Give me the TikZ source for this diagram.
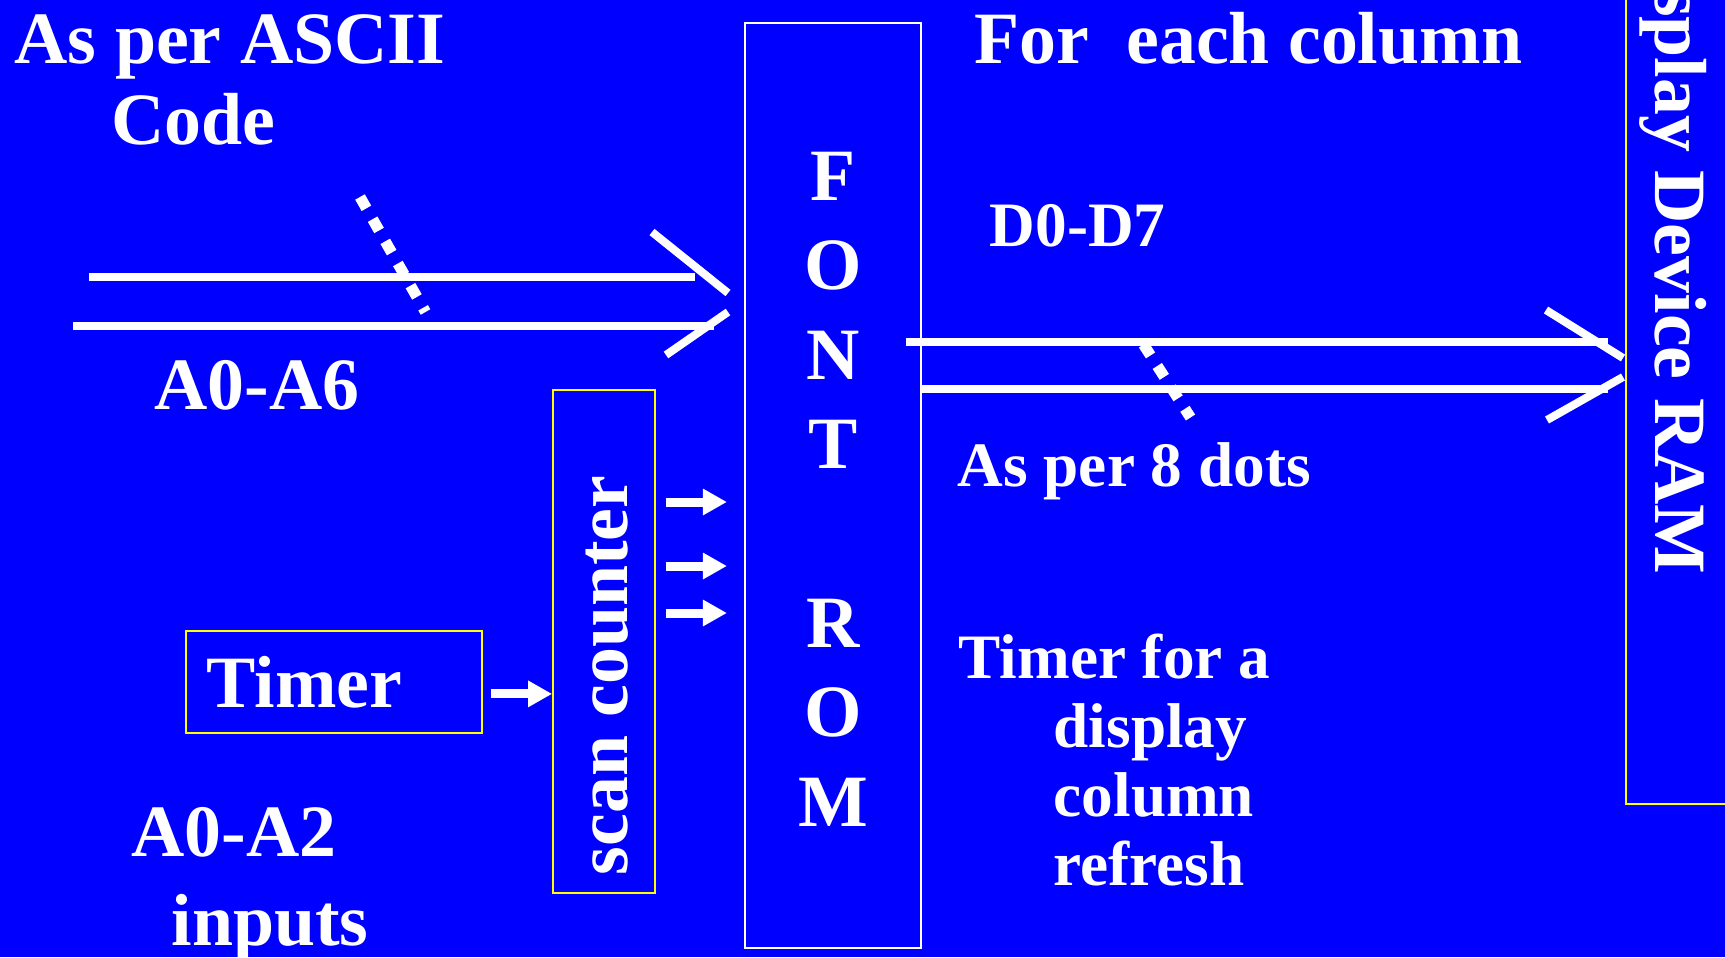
\documentclass[tikz,border=0pt]{standalone}
\usepackage{fontspec}
\setmainfont{Liberation Serif}
\usetikzlibrary{arrows.meta, positioning, calc}
\definecolor{slide}{HTML}{0000FF}
\definecolor{frame}{HTML}{FFFF00}

\tikzset{
  bigtxt/.style={text=white, font=\fontsize{21}{25.3}\selectfont\bfseries,
                 inner sep=0pt, anchor=base west},
  smalltxt/.style={bigtxt, font=\fontsize{18}{21}\selectfont\bfseries},
  yelbox/.style={draw=frame, line width=0.5pt},
  rombox/.style={draw=white, line width=0.6pt},
  bus/.style={white, line width=0.08cm},
  dotslash/.style={white, line width=0.11cm, dash pattern=on 0.13cm off 0.125cm},
  fatarrow/.style={white, line width=0.09cm, -{Triangle[length=0.24cm, width=0.25cm]}}
}

\begin{document}
\begin{tikzpicture}
  \clip (0,0) rectangle (17.25,-9.57);
  \fill[slide] (0,0) rectangle (17.25,-9.57);
  % Blocks
  \node[rombox, minimum width=1.76cm, minimum height=9.25cm] (rom) at (8.33,-4.855) {};
  \node[text=white, font=\fontsize{21}{25.5}\selectfont\bfseries, align=center,
        inner sep=0pt, anchor=north] (romlbl) at (8.33,-1.51)
        {F\\O\\N\\T\\[0.885cm]R\\O\\M};
  \node[yelbox, minimum width=1.02cm, minimum height=5.03cm] (scan) at (6.04,-6.415) {};
  \node[bigtxt, rotate=90] (scanlbl) at (6.27,-8.76) {scan counter};
  \node[yelbox, anchor=north west, minimum width=2.96cm, minimum height=1.02cm,
        text width=2.54cm, inner xsep=0.21cm, align=left, text=white,
        font=\fontsize{21}{25.3}\selectfont\bfseries] (timer) at (1.85,-6.30) {Timer};
  \node[yelbox, anchor=south west, minimum width=2cm, minimum height=9cm] (ram) at (16.25,-8.05) {};
  \node[bigtxt, rotate=-90, anchor=base east] (ramlbl) at (16.55,-5.75) {Display Device RAM};
  % Address bus into the ROM
  \coordinate (busA) at (0.89,-2.77);
  \coordinate (busB) at (0.73,-3.26);
  \draw[bus] (busA) -- ([xshift=-0.49cm]rom.west |- busA);
  \draw[bus] (busB) -- ([xshift=-0.30cm]rom.west |- busB);
  \draw[bus] (6.52,-2.32) -- (7.28,-2.93);
  \draw[bus] (7.28,-3.12) -- (6.66,-3.55);
  \draw[dotslash] (3.60,-1.97) -- (4.255,-3.12);
  % Data bus out to the RAM
  \coordinate (dataA) at (16.08,-3.42);
  \coordinate (dataB) at (16.08,-3.89);
  \draw[bus] ([xshift=-0.16cm]rom.east |- dataA) -- (dataA);
  \draw[bus] (rom.east |- dataB) -- (dataB);
  \draw[bus] (15.46,-3.10) -- (16.23,-3.58);
  \draw[bus] (16.23,-3.77) -- (15.47,-4.20);
  \draw[dotslash] (11.435,-3.445) -- (11.905,-4.175);
  % Arrows
  \draw[fatarrow] ([shift={(0.08,-0.12)}]timer.east) -- ([yshift=-0.12cm]timer.east -| scan.west);
  \foreach \y in {5.02, 5.66, 6.13}
    \draw[fatarrow] ([xshift=0.10cm]scan.east |- 0,-\y) -- ([xshift=-0.17cm]rom.west |- 0,-\y);
  % Labels
  \node[bigtxt] (ascii1) at (0.14,-0.63) {As per ASCII};
  \node[bigtxt] (ascii2) at (1.11,-1.44) {Code};
  \node[bigtxt] (addrhi) at (1.54,-4.09) {A0-A6};
  \node[bigtxt] (addrlo) at (1.31,-8.56) {A0-A2};
  \node[bigtxt] (inputs) at (1.71,-9.45) {inputs};
  \node[bigtxt] (percol) at (9.74,-0.63) {For~~each column};
  \node[smalltxt] (dbus) at (9.89,-2.46) {D0-D7};
  \node[smalltxt] (dots) at (9.57,-4.86) {As per 8 dots};
  \node[smalltxt] (tmr) at (9.58,-6.78) {Timer for a};
  \foreach \w/\yy in {display/7.47, column/8.16, refresh/8.85}
    \node[smalltxt] at (10.53,-\yy) {\w};
\end{tikzpicture}
\end{document}
